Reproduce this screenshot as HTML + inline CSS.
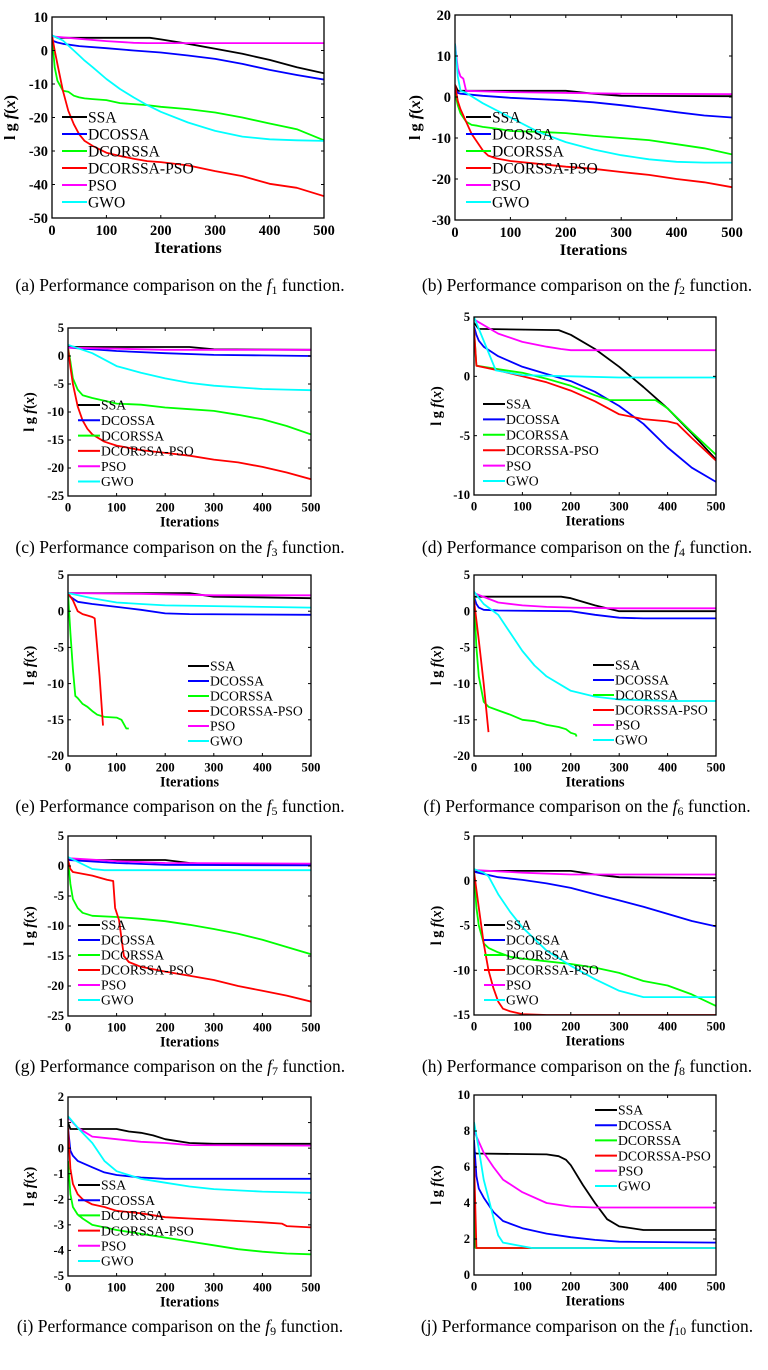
<!DOCTYPE html>
<html><head><meta charset="utf-8">
<style>
html,body{margin:0;padding:0;background:#fff;}
svg{display:block;}
text{font-family:"Liberation Serif",serif;}
</style></head>
<body>
<svg id="fig" xmlns="http://www.w3.org/2000/svg" width="768" height="1370" viewBox="0 0 768 1370"></svg>
<script>
// ---------- data (iteration, lg f(x)) ----------
const seriesNames = ["SSA","DCOSSA","DCORSSA","DCORSSA-PSO","PSO","GWO"];
const xTicks = [0,100,200,300,400,500];

// (a) f1
const A_SSA=[[0,4.5],[10,3.8],[180,3.8],[200,3.3],[250,2.0],[300,0.5],[350,-1],[400,-2.8],[450,-5],[500,-6.8]];
const A_DCOSSA=[[0,3],[10,2.4],[20,2],[50,1.3],[100,0.7],[150,0],[200,-0.6],[250,-1.5],[300,-2.5],[350,-4],[400,-5.8],[450,-7.3],[500,-8.7]];
const A_DCORSSA=[[0,4],[5,-5],[10,-9],[20,-12],[30,-12.3],[40,-13.5],[50,-14],[60,-14.3],[75,-14.5],[100,-14.8],[125,-15.7],[150,-16],[175,-16.3],[200,-16.8],[250,-17.5],[300,-18.5],[350,-20],[400,-21.8],[450,-23.5],[500,-26.8]];
const A_DPSO=[[0,4.5],[5,0],[10,-4],[20,-12],[30,-18],[40,-22],[50,-25],[60,-27],[75,-28.5],[100,-30.5],[125,-31.5],[150,-32.3],[175,-33],[200,-33.3],[250,-34.3],[300,-36],[350,-37.5],[400,-39.8],[450,-41],[500,-43.5]];
const A_PSO=[[0,4.2],[50,3.5],[100,2.8],[150,2.3],[175,2.2],[500,2.2]];
const A_GWO=[[0,4.5],[10,3.8],[20,3],[30,1.5],[40,0],[50,-1.5],[60,-3],[75,-5],[100,-8.5],[125,-11.5],[150,-14],[175,-16.3],[200,-18.3],[250,-21.5],[300,-24],[350,-25.7],[400,-26.5],[450,-26.8],[500,-27]];

// (b) f2
const B_SSA=[[0,3],[5,1.5],[200,1.5],[250,0.8],[300,0.3],[500,0.2]];
const B_DCOSSA=[[0,2],[5,1],[10,0.8],[50,0.3],[100,-0.2],[150,-0.5],[200,-0.8],[250,-1.3],[300,-2],[350,-2.8],[400,-3.7],[450,-4.5],[500,-5]];
const B_DCORSSA=[[0,1],[5,-2],[10,-4],[20,-6],[30,-6.8],[40,-7],[50,-7.3],[75,-7.7],[100,-8.3],[150,-8.5],[200,-8.8],[250,-9.5],[300,-10],[350,-10.5],[400,-11.5],[450,-12.5],[500,-14]];
const B_DPSO=[[0,3],[5,-1],[10,-3],[20,-6],[30,-9],[40,-11],[50,-13],[60,-14.3],[75,-15],[100,-15.6],[150,-16.3],[200,-17],[250,-17.5],[300,-18.3],[350,-19],[400,-20],[450,-20.8],[500,-22]];
const B_PSO=[[0,13],[5,7],[10,5],[15,4.5],[20,1.5],[100,1.2],[300,0.8],[500,0.7]];
const B_GWO=[[0,13],[5,5],[10,1.5],[20,1],[50,-1.5],[100,-5],[150,-8.5],[200,-11],[250,-12.8],[300,-14.2],[350,-15.2],[400,-15.8],[450,-16],[500,-16]];

// (c) f3
const C_SSA=[[0,1.7],[20,1.6],[250,1.6],[300,1.2],[500,1.1]];
const C_DCOSSA=[[0,1.5],[100,0.9],[200,0.5],[300,0.2],[400,0.1],[500,0]];
const C_DCORSSA=[[0,1.5],[5,-1],[10,-4],[20,-6],[30,-7],[50,-7.5],[75,-8],[100,-8.5],[150,-8.7],[200,-9.2],[250,-9.5],[300,-9.8],[350,-10.5],[400,-11.3],[450,-12.5],[500,-14]];
const C_DPSO=[[0,1.5],[5,-2],[10,-5],[20,-9],[30,-11.5],[40,-13],[50,-14],[75,-15.3],[100,-16],[150,-16.8],[200,-17.3],[250,-17.8],[300,-18.5],[350,-19],[400,-19.8],[450,-20.8],[500,-22]];
const C_PSO=[[0,1.5],[100,1.3],[200,1.1],[500,1.1]];
const C_GWO=[[0,2],[50,0.5],[100,-1.8],[150,-3],[200,-4],[250,-4.8],[300,-5.3],[350,-5.6],[400,-5.9],[450,-6],[500,-6.1]];

// (d) f4
const D_SSA=[[0,4.5],[10,4],[175,3.9],[200,3.5],[250,2.3],[300,0.8],[350,-0.9],[400,-2.7],[450,-4.8],[500,-7]];
const D_DCOSSA=[[0,4.2],[5,3.5],[10,3],[20,2.5],[50,1.7],[100,0.8],[150,0.2],[200,-0.4],[250,-1.3],[300,-2.5],[350,-4],[400,-6],[450,-7.7],[500,-8.9]];
const D_DCORSSA=[[0,4],[5,0.9],[50,0.6],[100,0.3],[150,-0.2],[200,-0.8],[250,-1.6],[280,-2],[375,-2],[400,-2.7],[450,-4.7],[500,-6.6]];
const D_DPSO=[[0,4],[5,0.9],[50,0.5],[100,0],[150,-0.5],[200,-1.2],[250,-2.1],[300,-3.2],[350,-3.6],[400,-3.8],[420,-4],[450,-5.2],[500,-7.1]];
const D_PSO=[[0,4.8],[50,3.6],[100,2.9],[150,2.5],[180,2.3],[200,2.2],[500,2.2]];
const D_GWO=[[0,5],[45,0.5],[100,0.1],[200,0],[300,-0.1],[500,-0.1]];

// (e) f5
const E_SSA=[[0,2.5],[250,2.5],[300,2],[500,1.8]];
const E_DCOSSA=[[0,2.2],[20,1.3],[50,1],[100,0.6],[150,0.2],[200,-0.3],[250,-0.4],[500,-0.5]];
const E_DCORSSA=[[0,2.5],[5,-3],[10,-8],[15,-11.7],[20,-12],[30,-12.8],[40,-13.2],[50,-13.8],[60,-14.3],[75,-14.6],[100,-14.7],[110,-15],[120,-16.2],[125,-16.2]];
const E_DPSO=[[0,2.5],[10,1.5],[20,0],[30,-0.4],[40,-0.6],[50,-0.8],[55,-1],[60,-5],[65,-9],[72,-15.8]];
const E_PSO=[[0,2.5],[150,2.4],[300,2.2],[500,2.2]];
const E_GWO=[[0,2.5],[50,1.8],[100,1.2],[150,1],[200,0.8],[300,0.7],[400,0.6],[500,0.5]];

// (f) f6
const F_SSA=[[0,2],[180,2],[200,1.8],[250,0.8],[300,0],[500,0]];
const F_DCOSSA=[[0,2],[5,1],[10,0.5],[20,0.2],[50,0.1],[200,0],[250,-0.5],[300,-0.9],[350,-1],[500,-1]];
const F_DCORSSA=[[0,2],[5,-5],[10,-9],[20,-12.5],[30,-13.2],[50,-13.7],[75,-14.3],[100,-15],[125,-15.2],[150,-15.7],[175,-16],[190,-16.3],[200,-16.8],[210,-17],[212,-17.3]];
const F_DPSO=[[0,1.5],[10,-4],[20,-10],[30,-16.7]];
const F_PSO=[[0,2.5],[50,1.2],[100,0.8],[150,0.6],[200,0.5],[300,0.4],[500,0.4]];
const F_GWO=[[0,2.7],[20,1],[50,-0.5],[75,-3],[100,-5.5],[125,-7.5],[150,-9],[200,-11],[250,-11.8],[300,-12.2],[400,-12.4],[500,-12.4]];

// (g) f7
const G_SSA=[[0,1.2],[20,1],[200,1],[250,0.5],[300,0.3],[500,0.3]];
const G_DCOSSA=[[0,1],[100,0.5],[200,0.2],[500,0.1]];
const G_DCORSSA=[[0,1],[5,-3],[10,-5.5],[20,-7],[30,-7.8],[50,-8.3],[100,-8.5],[150,-8.8],[200,-9.2],[250,-9.8],[300,-10.5],[350,-11.3],[400,-12.3],[450,-13.5],[500,-14.7]];
const G_DPSO=[[0,1],[5,-0.5],[10,-1],[50,-1.6],[80,-2.3],[93,-2.5],[97,-7],[105,-9],[115,-15],[125,-16],[150,-16.8],[200,-17.6],[250,-18.3],[300,-19],[350,-20],[400,-20.8],[450,-21.6],[500,-22.6]];
const G_PSO=[[0,1.3],[100,0.8],[200,0.5],[500,0.4]];
const G_GWO=[[0,1.5],[50,-0.5],[75,-0.7],[500,-0.7]];

// (h) f8
const H_SSA=[[0,1.1],[200,1.1],[250,0.7],[300,0.4],[500,0.3]];
const H_DCOSSA=[[0,1],[50,0.4],[100,0.1],[150,-0.3],[200,-0.8],[250,-1.5],[300,-2.2],[350,-2.9],[400,-3.7],[450,-4.5],[500,-5.1]];
const H_DCORSSA=[[0,1],[5,-3],[10,-5],[20,-7],[30,-7.5],[50,-8],[75,-8.5],[100,-8.7],[150,-9],[200,-9.3],[250,-9.7],[300,-10.3],[350,-11.2],[400,-11.7],[450,-12.7],[500,-14]];
const H_DPSO=[[0,1],[5,-1],[10,-3],[20,-7],[30,-10],[40,-12],[50,-13.5],[60,-14.3],[75,-14.6],[100,-14.9],[150,-15],[500,-15]];
const H_PSO=[[0,1.2],[100,0.9],[200,0.7],[500,0.7]];
const H_GWO=[[0,1.3],[20,0.9],[30,0.5],[50,-1.5],[75,-3.5],[100,-5.2],[150,-7.8],[200,-9.5],[250,-11],[300,-12.3],[350,-13],[500,-13]];

// (i) f9
const I_SSA=[[0,1],[5,0.75],[100,0.75],[125,0.65],[150,0.6],[175,0.5],[200,0.35],[250,0.2],[300,0.17],[500,0.17]];
const I_DCOSSA=[[0,0.8],[5,-0.1],[10,-0.3],[20,-0.5],[50,-0.75],[75,-0.95],[100,-1.05],[150,-1.15],[200,-1.2],[500,-1.2]];
const I_DCORSSA=[[0,-0.5],[5,-1.8],[10,-2.3],[20,-2.6],[30,-2.75],[50,-3.0],[75,-3.1],[100,-3.2],[150,-3.35],[200,-3.5],[250,-3.65],[300,-3.8],[350,-3.95],[400,-4.05],[450,-4.12],[500,-4.15]];
const I_DPSO=[[0,0.8],[5,-0.8],[10,-1.4],[20,-1.8],[30,-2],[50,-2.2],[75,-2.3],[100,-2.45],[150,-2.55],[200,-2.7],[250,-2.75],[300,-2.8],[350,-2.85],[400,-2.9],[440,-2.95],[450,-3.05],[500,-3.1]];
const I_PSO=[[0,1.2],[20,0.8],[50,0.45],[100,0.35],[150,0.25],[200,0.2],[250,0.12],[500,0.1]];
const I_GWO=[[0,1.25],[20,0.8],[50,0.2],[75,-0.5],[100,-0.9],[150,-1.2],[200,-1.35],[250,-1.5],[300,-1.6],[400,-1.7],[500,-1.75]];

// (j) f10
const J_SSA=[[0,6.8],[5,6.75],[150,6.7],[175,6.6],[190,6.4],[200,6.1],[225,5],[250,4],[275,3.1],[300,2.7],[350,2.5],[500,2.5]];
const J_DCOSSA=[[0,7.5],[5,5.5],[10,4.8],[20,4.3],[40,3.5],[60,3],[100,2.6],[150,2.3],[200,2.1],[250,1.95],[300,1.85],[500,1.8]];
const J_DCORSSA=[[0,5],[3,1.5],[500,1.5]];
const J_DPSO=[[0,6.5],[5,1.5],[500,1.5]];
const J_PSO=[[0,8],[20,6.8],[40,6],[60,5.3],[100,4.6],[150,4],[200,3.8],[250,3.75],[500,3.75]];
const J_GWO=[[0,8.5],[10,7],[20,5.3],[40,3.2],[50,2.2],[60,1.8],[100,1.6],[120,1.5],[500,1.5]];

// y-axis ranges per panel
const yRanges = {a:[-50,10,10],b:[-30,20,10],c:[-25,5,5],d:[-10,5,5],e:[-20,5,5],f:[-20,5,5],g:[-25,5,5],h:[-15,5,5],i:[-5,2,1],j:[0,10,2]};

// ---------- layout ----------
const colors = ["#000000","#0000ff","#00ff00","#ff0000","#ff00ff","#00ffff"];
const panels = [
 {id:"a",fn:"1",sc:1.2,L:52,R:324,T:17,B:218,lx:62,ly:117,ldy:17,lw:25,labx:15,series:[A_SSA,A_DCOSSA,A_DCORSSA,A_DPSO,A_PSO,A_GWO]},
 {id:"b",fn:"2",sc:1.2,L:455,R:732,T:15,B:220,lx:466,ly:117,ldy:17,lw:25,labx:420,series:[B_SSA,B_DCOSSA,B_DCORSSA,B_DPSO,B_PSO,B_GWO]},
 {id:"c",fn:"3",sc:1.05,L:68,R:311,T:328,B:496,lx:78,ly:405,ldy:15.3,lw:22,labx:34,series:[C_SSA,C_DCOSSA,C_DCORSSA,C_DPSO,C_PSO,C_GWO]},
 {id:"d",fn:"4",sc:1.05,L:474,R:716,T:317,B:495,lx:483,ly:404,ldy:15.4,lw:22,labx:441,series:[D_SSA,D_DCOSSA,D_DCORSSA,D_DPSO,D_PSO,D_GWO]},
 {id:"e",fn:"5",sc:1.05,L:68,R:311,T:575,B:756,lx:188,ly:666,ldy:15,lw:21,labx:34,series:[E_SSA,E_DCOSSA,E_DCORSSA,E_DPSO,E_PSO,E_GWO]},
 {id:"f",fn:"6",sc:1.05,L:474,R:716,T:575,B:756,lx:593,ly:665,ldy:15,lw:21,labx:441,series:[F_SSA,F_DCOSSA,F_DCORSSA,F_DPSO,F_PSO,F_GWO]},
 {id:"g",fn:"7",sc:1.05,L:68,R:311,T:836,B:1016,lx:78,ly:925,ldy:15,lw:22,labx:34,series:[G_SSA,G_DCOSSA,G_DCORSSA,G_DPSO,G_PSO,G_GWO]},
 {id:"h",fn:"8",sc:1.05,L:474,R:716,T:836,B:1015,lx:484,ly:925,ldy:15,lw:21,labx:441,series:[H_SSA,H_DCOSSA,H_DCORSSA,H_DPSO,H_PSO,H_GWO]},
 {id:"i",fn:"9",sc:1.05,L:68,R:311,T:1097,B:1276,lx:78,ly:1185,ldy:15.2,lw:22,labx:34,series:[I_SSA,I_DCOSSA,I_DCORSSA,I_DPSO,I_PSO,I_GWO]},
 {id:"j",fn:"10",sc:1.05,L:474,R:716,T:1095,B:1275,lx:595,ly:1110,ldy:15.2,lw:22,labx:441,series:[J_SSA,J_DCOSSA,J_DCORSSA,J_DPSO,J_PSO,J_GWO]}
];
const capY = {a:291,b:291,c:553,d:553,e:812,f:812,g:1072,h:1072,i:1332,j:1332};

const NS="http://www.w3.org/2000/svg";
const fig=document.getElementById("fig");
function mk(tag,attrs,parent){const e=document.createElementNS(NS,tag);for(const k in attrs)e.setAttribute(k,attrs[k]);parent.appendChild(e);return e;}

panels.forEach(p=>{
  const [ymin,ymax,ystep]=yRanges[p.id];
  const sx=v=>p.L+(v-0)/(500-0)*(p.R-p.L);
  const sy=v=>p.B-(v-ymin)/(ymax-ymin)*(p.B-p.T);
  const s=p.sc;
  const g=mk("g",{},fig);
  
  
  const cp=mk("clipPath",{id:"clip"+p.id},g);
  mk("rect",{x:p.L,y:p.T,width:p.R-p.L,height:p.B-p.T},cp);
  const sg=mk("g",{"clip-path":"url(#clip"+p.id+")"},g);
  p.series.forEach((sr,k)=>{
    const d=sr.map((pt,i)=>(i?"L":"M")+sx(pt[0]).toFixed(1)+","+sy(pt[1]).toFixed(1)).join("");
    const path=mk("path",{d:d,fill:"none",stroke:colors[k],"stroke-width":"1.8","stroke-linejoin":"round"},sg);
    
    
  });
  const box=mk("rect",{x:p.L,y:p.T,width:p.R-p.L,height:p.B-p.T,fill:"none",stroke:"#000","stroke-width":"1.3"},g);
  
  
  const tfs=(12*s).toFixed(1);
  xTicks.forEach(t=>{
    const x=sx(t);
    mk("line",{x1:x,y1:p.B,x2:x,y2:p.B-3,stroke:"#000","stroke-width":"1"},g);
    mk("line",{x1:x,y1:p.T,x2:x,y2:p.T+3,stroke:"#000","stroke-width":"1"},g);
    const tx=mk("text",{x:x,y:p.B+4+11*s,"text-anchor":"middle","font-size":tfs,"font-weight":"bold"},g);
    tx.textContent=t;
    
    
  });
  for(let v=ymin;v<=ymax+1e-9;v+=ystep){
    const y=sy(v);
    mk("line",{x1:p.L,y1:y,x2:p.L+3,y2:y,stroke:"#000","stroke-width":"1"},g);
    mk("line",{x1:p.R,y1:y,x2:p.R-3,y2:y,stroke:"#000","stroke-width":"1"},g);
    const ty=mk("text",{x:p.L-4,y:y+4*s,"text-anchor":"end","font-size":tfs,"font-weight":"bold"},g);
    ty.textContent=Math.round(v);
    
    
  }
  const afs=(13.5*s).toFixed(1);
  const xt=mk("text",{x:(p.L+p.R)/2,y:p.B+29*s,"text-anchor":"middle","font-size":afs,"font-weight":"bold"},g);
  xt.textContent="Iterations";
  
  
  const cy=(p.T+p.B)/2;
  const yt=mk("text",{x:p.labx,y:cy,"text-anchor":"middle","font-size":afs,"font-weight":"bold",transform:"rotate(-90 "+p.labx+" "+cy+")"},g);
  
  
  yt.innerHTML='l g  <tspan font-style="italic">f</tspan>(<tspan font-style="italic">x</tspan>)';
  const lfs=(13*s).toFixed(1);
  seriesNames.forEach((n,k)=>{
    const y=p.ly+k*p.ldy;
    const ln=mk("line",{x1:p.lx,y1:y,x2:p.lx+p.lw,y2:y,stroke:colors[k],"stroke-width":"2"},g);
    
    
    const lt=mk("text",{x:p.lx+p.lw+1,y:y+4.5*s,"font-size":lfs},g);
    lt.textContent=n;
    
    
  });
  const cx=p.L<300?180:587;
  const ct=mk("text",{x:cx,y:capY[p.id],"text-anchor":"middle","font-size":"17.5"},g);
  
  
  ct.innerHTML='('+p.id+') Performance comparison on the <tspan font-style="italic">f</tspan><tspan font-size="12" dy="3">'+p.fn+'</tspan><tspan dy="-3"> function.</tspan>';
});
</script>
</body></html>
